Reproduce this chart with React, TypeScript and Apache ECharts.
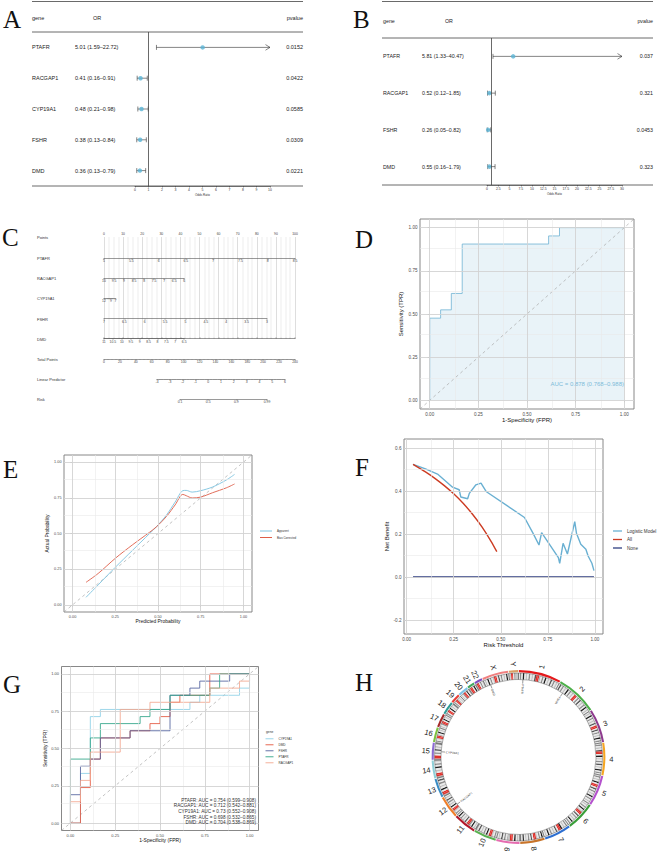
import React, { useEffect, useRef } from 'react';
import * as echarts from 'echarts';

// ===== A: forest plot, five genes =====
const genesA = ['PTAFR', 'RACGAP1', 'CYP19A1', 'FSHR', 'DMD'];
const orA = [5.01, 0.41, 0.48, 0.38, 0.36];
const loA = [1.59, 0.16, 0.21, 0.13, 0.13];
const hiA = [22.72, 0.91, 0.98, 0.84, 0.79];
const pvalA = ['0.0152', '0.0422', '0.0585', '0.0309', '0.0221'];
const axisMaxA = 10;
const tickStepA = 1;

// ===== B: forest plot, four genes =====
const genesB = ['PTAFR', 'RACGAP1', 'FSHR', 'DMD'];
const orB = [5.81, 0.52, 0.26, 0.55];
const loB = [1.33, 0.12, 0.05, 0.16];
const hiB = [40.47, 1.85, 0.82, 1.79];
const pvalB = ['0.037', '0.321', '0.0453', '0.323'];
const axisMaxB = 30;
const tickStepB = 2.5;

// ===== C: nomogram =====
const nomoLabels = ['Points', 'PTAFR', 'RACGAP1', 'CYP19A1', 'FSHR', 'DMD', 'Total Points', 'Linear Predictor', 'Risk'];
const pointsScale = [0, 100];
const ptafrScale = [5, 8.5];
const ptafrPoints = [0, 100];
const racgapScale = [6, 10];
const racgapPoints = [0, 42];
const cypScale = [7, 12];
const cypPoints = [0, 6];
const cypTicks = [7, 9, 12];
const fshrScale = [3, 7];
const fshrPoints = [0, 85.3];
const dmdScale = [6.5, 11];
const dmdPoints = [0, 42];
const totalScale = [0, 240];
const lpScale = [-4, 6];
const lpTotalPoints = [66.6, 227.4];
const riskTicks = [0.1, 0.5, 0.9, 0.99];

// ===== D: ROC of the model =====
const rocFpr = [0, 0, 0.056, 0.056, 0.111, 0.111, 0.167, 0.167, 0.611, 0.611, 0.667, 0.667, 1];
const rocTpr = [0, 0.476, 0.476, 0.524, 0.524, 0.619, 0.619, 0.905, 0.905, 0.952, 0.952, 1, 1];
const rocAuc = ['0.878', '0.768', '0.988'];

// ===== E: calibration =====
const calX = [0.079, 0.15, 0.25, 0.35, 0.45, 0.49, 0.55, 0.6, 0.645, 0.665, 0.7, 0.75, 0.82, 0.9, 0.948];
const calApparent = [0.053, 0.14, 0.263, 0.381, 0.499, 0.546, 0.63, 0.72, 0.8, 0.802, 0.79, 0.8, 0.826, 0.875, 0.914];
const calBias = [0.158, 0.22, 0.326, 0.42, 0.508, 0.546, 0.62, 0.7, 0.774, 0.765, 0.749, 0.755, 0.786, 0.82, 0.847];

// ===== F: decision curve =====
const dcaT = [0.034, 0.1, 0.164, 0.244, 0.279, 0.288, 0.324, 0.333, 0.368, 0.395, 0.422, 0.626, 0.671, 0.703, 0.717, 0.806, 0.813, 0.831, 0.854, 0.893, 0.902, 0.925, 0.952, 0.964, 0.984, 0.995];
const dcaModel = [0.524, 0.503, 0.479, 0.418, 0.406, 0.372, 0.364, 0.389, 0.429, 0.437, 0.398, 0.277, 0.204, 0.149, 0.207, 0.09, 0.064, 0.157, 0.107, 0.258, 0.204, 0.152, 0.129, 0.098, 0.064, 0.03];
const dcaAllT = [0.034, 0.1, 0.15, 0.2, 0.25, 0.3, 0.35, 0.4, 0.45, 0.479];
const dcaAll = [0.524, 0.489, 0.459, 0.425, 0.387, 0.343, 0.292, 0.233, 0.164, 0.118];
const dcaNoneT = [0.034, 0.995];
const dcaNone = [0, 0];

// ===== G: single-gene ROC =====
const rocGenes = ['CYP19A1', 'DMD', 'FSHR', 'PTAFR', 'RACGAP1'];
const cypFpr = [0, 0.056, 0.056, 0.111, 0.111, 0.167, 0.167, 0.667, 0.667, 0.722, 0.722, 0.944, 0.944, 1, 1];
const cypTpr = [0, 0, 0.333, 0.333, 0.714, 0.714, 0.762, 0.762, 0.81, 0.81, 0.857, 0.857, 0.905, 0.905, 1];
const dmdFpr = [0, 0.056, 0.056, 0.111, 0.111, 0.167, 0.167, 0.333, 0.333, 0.444, 0.444, 0.5, 0.5, 0.556, 0.556, 0.611, 0.611, 0.778, 0.778, 1];
const dmdTpr = [0, 0, 0.238, 0.238, 0.429, 0.429, 0.571, 0.571, 0.619, 0.619, 0.667, 0.667, 0.714, 0.714, 0.81, 0.81, 0.857, 0.857, 1, 1];
const fshrFpr = [0, 0, 0.056, 0.056, 0.111, 0.111, 0.167, 0.167, 0.333, 0.333, 0.556, 0.556, 0.667, 0.667, 0.722, 0.722, 0.889, 0.889, 1];
const fshrTpr = [0, 0.19, 0.19, 0.381, 0.381, 0.429, 0.429, 0.571, 0.571, 0.619, 0.619, 0.857, 0.857, 0.905, 0.905, 0.952, 0.952, 1, 1];
const ptafrFpr = [0, 0, 0.111, 0.111, 0.167, 0.167, 0.389, 0.389, 0.444, 0.444, 0.556, 0.556, 0.778, 0.778, 0.833, 0.833, 1];
const ptafrTpr = [0, 0.429, 0.429, 0.571, 0.571, 0.667, 0.667, 0.714, 0.714, 0.762, 0.762, 0.857, 0.857, 0.905, 0.905, 1, 1];
const racFpr = [0, 0, 0.056, 0.056, 0.111, 0.111, 0.278, 0.278, 0.444, 0.444, 0.778, 0.778, 0.944, 0.944, 1, 1];
const racTpr = [0, 0.143, 0.143, 0.286, 0.286, 0.476, 0.476, 0.762, 0.762, 0.81, 0.81, 0.905, 0.905, 0.952, 0.952, 1];
const aucGenes = ['PTAFR', 'RACGAP1', 'CYP19A1', 'FSHR', 'DMD'];
const aucValues = ['0.754', '0.712', '0.73', '0.698', '0.704'];
const aucLower = ['0.599', '0.542', '0.552', '0.532', '0.538'];
const aucUpper = ['0.908', '0.881', '0.908', '0.865', '0.869'];

// ===== H: circos =====
const chromNames = ['1', '2', '3', '4', '5', '6', '7', '8', '9', '10', '11', '12', '13', '14', '15', '16', '17', '18', '19', '20', '21', '22', 'X', 'Y'];
const chromLengths = [248, 242, 198, 190, 181, 171, 159, 145, 138, 134, 135, 133, 114, 107, 102, 90, 83, 80, 59, 64, 47, 51, 156, 57];
const chromBands = [
  'wgwkwlwgwlwdrrvwgwkwlwdwgwlw', 'wdwgwlwkwgwlwrrwgwdwlwgwkwlw', 'wlwkwgwlwdwrrwdwgwlwkwgw', 'wgwlwdrrwkwlwgwdwlwkwgw',
  'wgwlwkwrrwdwgwlwkwgwlw', 'wlwgwkwlrrwdwgwlwkwgw', 'wgwlwkrrwdwlwgwkwlw', 'wkwgwlrrwdwgwlwkwg',
  'wlwkwrrvvwgwdwlw', 'wgwlrrwkwgwlwdwg', 'wlwkwgrrwdwlwgwkw', 'wgwlrrwkwlwgwdwlw',
  'vrrwkwlwgwdw', 'vrrwlwkwgwl', 'vrrwgwdwlwg', 'wgwlrrvwkwlw', 'wlwgrrwkwlw', 'wgwrrwkwlwg',
  'wgwrrvwlw', 'wlwgrrwkwl', 'vrrwkw', 'vrrwgwl', 'wlwkwgwlrrwdwgwlwkw', 'wlrrwgvvv',
];
const markerGenes = ['PTAFR', 'FSHR', 'RACGAP1', 'CYP19A1', 'DMD'];
const markerChrom = ['1', '2', '12', '15', 'X'];
const markerPosMb = [28, 49, 50, 51, 32];

// ===== styles =====
const FONT = "'Liberation Sans', Arial, Helvetica, sans-serif";
const SERIF = "'Liberation Serif', 'Times New Roman', serif";
const chromColors = ['#E41A1C', '#4DAF4A', '#8E3B8E', '#F5A623', '#B452CD', '#3A9E3A', '#2E6FD0', '#C8742A', '#E56CB0', '#59B050', '#B2182B', '#F07F2A', '#3C8DC4', '#8FD0D8', '#8C6BD1', '#7CC242', '#A52A2A', '#2F9C95', '#E8403A', '#7EC3E6', '#41A85F', '#7E4FC0', '#F08080', '#D9A066'];
const bandColor: any = { w: '#E9E9E9', l: '#C4C4C4', g: '#8F8F8F', d: '#555555', k: '#1E1E1E', r: '#E0312C', v: '#B5B5B5' };
const geneColors: any = { CYP19A1: '#8DD0E6', DMD: '#E4573F', FSHR: '#52629E', PTAFR: '#2FA487', RACGAP1: '#F3A78F' };

function buildOption() {
  const grid: any[] = [];
  const xAxis: any[] = [];
  const yAxis: any[] = [];
  const series: any[] = [];
  const legend: any[] = [];
  const graphic: any[] = [];
  const addGrid = (g: any) => { grid.push({ containLabel: false, ...g }); return grid.length - 1; };
  const T = (x: number, y: number, text: string, fontSize: number, o: any = {}) => {
    const align = o.align || 'left';
    const va = o.verticalAlign || 'middle';
    graphic.push({
      type: 'text', x, y, silent: true, z: 100, rotation: o.rotation || 0,
      style: { text, fontSize, fontFamily: o.fontFamily || FONT, fill: o.fill || '#222', align, textAlign: align, verticalAlign: va, textVerticalAlign: va },
    });
  };
  const L = (x1: number, y1: number, x2: number, y2: number, stroke = '#444', lineWidth = 0.8) => {
    graphic.push({ type: 'line', silent: true, z: 90, shape: { x1, y1, x2, y2 }, style: { stroke, lineWidth } });
  };

  // ---------- forest panels ----------
  const forestRender = (xMax: number) => (params: any, api: any) => {
    const row = api.value(1);
    const lo = api.value(2);
    const hi = api.value(3);
    const a = api.coord([lo, row]);
    const clipped = hi > xMax;
    const b = api.coord([clipped ? xMax : hi, row]);
    const style = { stroke: '#333', lineWidth: 0.6, fill: 'none' };
    const kids: any[] = [
      { type: 'line', shape: { x1: a[0], y1: a[1], x2: b[0], y2: b[1] }, style },
      { type: 'line', shape: { x1: a[0], y1: a[1] - 2.5, x2: a[0], y2: a[1] + 2.5 }, style },
    ];
    if (clipped) kids.push({ type: 'polyline', shape: { points: [[b[0] - 4.5, b[1] - 2.8], [b[0], b[1]], [b[0] - 4.5, b[1] + 2.8]] }, style });
    else kids.push({ type: 'line', shape: { x1: b[0], y1: b[1] - 2.5, x2: b[0], y2: b[1] + 2.5 }, style });
    return { type: 'group', children: kids };
  };
  const forest = (c: any) => {
    const g = addGrid({ left: c.left, top: c.top, width: c.width, height: c.height });
    const xi = xAxis.length;
    xAxis.push({
      gridIndex: g, type: 'value', min: 0, max: c.xMax, interval: c.step,
      axisLine: { show: true, lineStyle: { color: '#333', width: 0.6 } },
      axisTick: { show: true, length: 1.5, lineStyle: { color: '#333', width: 0.5 } },
      axisLabel: { fontSize: 3.4, margin: 2.2, color: '#333', fontFamily: FONT },
      splitLine: { show: false },
      name: 'Odds Ratio', nameLocation: 'middle', nameGap: 7.5, nameTextStyle: { fontSize: 3, color: '#333', fontFamily: FONT },
    });
    const yi = yAxis.length;
    yAxis.push({
      gridIndex: g, type: 'category', data: c.genes, inverse: true, position: 'left',
      axisLine: { show: false }, axisTick: { show: false }, splitLine: { show: false },
      axisLabel: { align: 'left', margin: c.left - c.geneX, fontSize: c.font, color: '#222', fontFamily: FONT },
    });
    yAxis.push({
      gridIndex: g, type: 'category', data: c.genes, inverse: true, position: 'right',
      axisLine: { show: false }, axisTick: { show: false }, splitLine: { show: false },
      axisLabel: { align: 'right', margin: c.pRight - c.left - c.width, fontSize: c.font, color: '#222', fontFamily: FONT, formatter: (_v: any, i: number) => c.pval[i] },
    });
    const g2 = addGrid({ left: c.orX, top: c.top, width: 10, height: c.height });
    xAxis.push({ gridIndex: g2, type: 'value', show: false, min: 0, max: 1 });
    yAxis.push({
      gridIndex: g2, type: 'category', data: c.genes, inverse: true, position: 'left',
      axisLine: { show: false }, axisTick: { show: false }, splitLine: { show: false },
      axisLabel: {
        align: 'left', margin: 0, fontSize: c.font, color: '#222', fontFamily: FONT,
        formatter: (_v: any, i: number) => `${c.or[i].toFixed(2)} (${c.lo[i].toFixed(2)}\u2013${c.hi[i].toFixed(2)})`,
      },
    });
    series.push({
      type: 'custom', name: c.name + 'ci', xAxisIndex: xi, yAxisIndex: yi, silent: true, z: 3,
      data: c.genes.map((_g: string, i: number) => [c.or[i], i, c.lo[i], c.hi[i]]),
      encode: { x: 0, y: 1 }, renderItem: forestRender(c.xMax),
    });
    series.push({
      type: 'scatter', name: c.name, xAxisIndex: xi, yAxisIndex: yi, silent: true, z: 4,
      data: c.genes.map((_g: string, i: number) => [c.or[i], i]),
      symbolSize: 4.5, itemStyle: { color: '#5AB4D6' },
      markLine: { silent: true, symbol: ['none', 'none'], label: { show: false }, lineStyle: { color: '#444', width: 0.8, type: 'solid' }, data: [{ xAxis: 1 }] },
    });
    T(c.geneX, c.headY, 'gene', c.font);
    T(c.orHeadX, c.headY, 'OR', c.font);
    T(c.pRight, c.headY, 'pvalue', c.font, { align: 'right' });
    L(c.lineL, 1.5, c.pRight, 1.5);
    L(c.lineL, c.top, c.pRight, c.top);
    L(c.lineL, c.top + c.height, c.pRight, c.top + c.height);
  };
  forest({ name: 'forestA', genes: genesA, or: orA, lo: loA, hi: hiA, pval: pvalA, xMax: axisMaxA, step: tickStepA, left: 135, top: 32, width: 135, height: 154, geneX: 32, orX: 75, orHeadX: 93, pRight: 303, headY: 17.5, lineL: 32, font: 5.5 });
  forest({ name: 'forestB', genes: genesB, or: orB, lo: loB, hi: hiB, pval: pvalB, xMax: axisMaxB, step: tickStepB, left: 487, top: 38, width: 135, height: 147, geneX: 383, orX: 422, orHeadX: 445, pRight: 653, headY: 21, lineL: 382, font: 5.3 });

  // ---------- C: nomogram ----------
  const NL = 104;
  const NW = 191;
  const ptsPx = (p: number) => NL + (p - pointsScale[0]) / (pointsScale[1] - pointsScale[0]) * NW;
  const rowY = [237, 258.3, 278.3, 298.3, 318.7, 338.7, 359, 379, 399.3];
  const nLine = { show: true, lineStyle: { color: '#555', width: 0.6 } };
  const nTick = (extra: any = {}) => ({ show: true, length: 1.5, lineStyle: { color: '#555', width: 0.4 }, ...extra });
  const nLab = (extra: any = {}) => ({ fontSize: 3.4, color: '#444', margin: 1.6, fontFamily: FONT, ...extra });
  nomoLabels.forEach((lab, i) => T(37, rowY[i] + 0.5, lab, 4, { fill: '#333' }));
  const gp = addGrid({ left: NL, top: rowY[0], width: NW, height: rowY[5] - rowY[0] });
  xAxis.push({
    gridIndex: gp, type: 'value', position: 'top', min: pointsScale[0], max: pointsScale[1], interval: 10,
    axisLine: nLine, axisTick: nTick(), axisLabel: nLab(),
    minorTick: { show: true, splitNumber: 4, length: 1, lineStyle: { color: '#666', width: 0.3 } },
    splitLine: { show: true, lineStyle: { color: '#bdbdbd', width: 0.5 } },
    minorSplitLine: { show: true, lineStyle: { color: '#d6d6d6', width: 0.45 } },
  });
  yAxis.push({ gridIndex: gp, type: 'value', show: false });
  const rowAxis = (left: number, right: number, y: number, ax: any) => {
    const g = addGrid({ left, top: y - 1, width: right - left, height: 1 });
    xAxis.push({ gridIndex: g, type: 'value', position: 'bottom', axisLine: nLine, axisTick: nTick(), axisLabel: nLab(), splitLine: { show: false }, ...ax });
    yAxis.push({ gridIndex: g, type: 'value', show: false });
  };
  rowAxis(ptsPx(ptafrPoints[0]), ptsPx(ptafrPoints[1]), rowY[1], { min: ptafrScale[0], max: ptafrScale[1], interval: 0.5 });
  rowAxis(ptsPx(racgapPoints[0]), ptsPx(racgapPoints[1]), rowY[2], { min: racgapScale[0], max: racgapScale[1], interval: 0.5, inverse: true });
  rowAxis(ptsPx(cypPoints[0]), ptsPx(cypPoints[1]), rowY[3], {
    min: cypScale[0], max: cypScale[1], inverse: true,
    axisTick: nTick({ customValues: [7, 7.5, 8, 8.5, 9, 9.5, 10, 10.5, 11, 11.5, 12], length: 1 }),
    axisLabel: nLab({ customValues: cypTicks }),
  });
  rowAxis(ptsPx(fshrPoints[0]), ptsPx(fshrPoints[1]), rowY[4], { min: fshrScale[0], max: fshrScale[1], interval: 0.5, inverse: true });
  rowAxis(ptsPx(dmdPoints[0]), ptsPx(dmdPoints[1]), rowY[5], { min: dmdScale[0], max: dmdScale[1], interval: 0.5, inverse: true });
  rowAxis(NL, NL + NW, rowY[6], { min: totalScale[0], max: totalScale[1], interval: 20, minorTick: { show: true, splitNumber: 4, length: 1, lineStyle: { color: '#666', width: 0.3 } } });
  const tpPx = (tp: number) => NL + (tp - totalScale[0]) / (totalScale[1] - totalScale[0]) * NW;
  const lpPx = (lp: number) => tpPx(lpTotalPoints[0] + (lp - lpScale[0]) / (lpScale[1] - lpScale[0]) * (lpTotalPoints[1] - lpTotalPoints[0]));
  rowAxis(lpPx(lpScale[0]), lpPx(lpScale[1]), rowY[7], { min: lpScale[0], max: lpScale[1], interval: 1, minorTick: { show: true, splitNumber: 5, length: 1, lineStyle: { color: '#666', width: 0.3 } } });
  const logit = (p: number) => Math.log(p / (1 - p));
  const rv = riskTicks.map(logit);
  rowAxis(lpPx(rv[0]), lpPx(rv[rv.length - 1]), rowY[8], {
    min: rv[0], max: rv[rv.length - 1],
    axisTick: nTick({ customValues: rv }),
    axisLabel: nLab({
      customValues: rv,
      formatter: (v: number) => {
        let best = 0;
        rv.forEach((r, i) => { if (Math.abs(r - v) < Math.abs(rv[best] - v)) best = i; });
        return String(riskTicks[best]);
      },
    }),
  });

  // ---------- ggplot-like panels ----------
  const gg = (p: any) => {
    const g = addGrid({ left: p.left, top: p.top, width: p.width, height: p.height, show: true, borderColor: '#7a7a7a', borderWidth: 0.9, backgroundColor: 'rgba(0,0,0,0)' });
    const xi = xAxis.length;
    xAxis.push({
      gridIndex: g, type: 'value', position: 'bottom', min: p.xMin, max: p.xMax,
      axisLine: { show: false },
      axisTick: { show: true, length: 2, lineStyle: { color: '#333', width: 0.5 }, customValues: p.xTicks },
      axisLabel: { show: true, customValues: p.xTicks, formatter: (v: number) => v.toFixed(p.xDec), fontSize: p.tickFont, color: '#4d4d4d', margin: 2.5, fontFamily: FONT },
      splitLine: { show: false },
      name: p.xName, nameLocation: 'middle', nameGap: p.xNameGap, nameTextStyle: { fontSize: p.titleFont, color: '#111', fontFamily: FONT },
    });
    const yi = yAxis.length;
    yAxis.push({
      gridIndex: g, type: 'value', position: 'left', min: p.yMin, max: p.yMax,
      axisLine: { show: false },
      axisTick: { show: true, length: 2, lineStyle: { color: '#333', width: 0.5 }, customValues: p.yTicks },
      axisLabel: { show: true, customValues: p.yTicks, formatter: (v: number) => v.toFixed(p.yDec), fontSize: p.tickFont, color: '#4d4d4d', margin: 2.5, fontFamily: FONT },
      splitLine: { show: false },
      name: p.yName, nameLocation: 'middle', nameGap: p.yNameGap, nameTextStyle: { fontSize: p.titleFont, color: '#111', fontFamily: FONT },
    });
    // grid lines drawn by the library at tick values (markLine spans the whole panel)
    const gridLines = (xs: number[], ys: number[], color: string, width: number, name: string) => series.push({
      type: 'line', name, xAxisIndex: xi, yAxisIndex: yi, silent: true, z: 1,
      data: [[xs[0], ys[0]]], symbol: 'none', showSymbol: false, lineStyle: { width: 0 },
      markLine: {
        silent: true, symbol: ['none', 'none'], label: { show: false }, animation: false,
        lineStyle: { color, width, type: 'solid' },
        data: [...xs.map((v) => ({ xAxis: v })), ...ys.map((v) => ({ yAxis: v }))],
      },
    });
    gridLines(p.xMinor, p.yMinor, '#e9e9e9', 0.6, p.id + 'minor');
    gridLines(p.xTicks, p.yTicks, '#d2d2d2', 0.9, p.id + 'major');
    return { xi, yi };
  };
  const q = [0, 0.25, 0.5, 0.75, 1];
  const qm = [0.125, 0.375, 0.625, 0.875];
  const dashed = (ax: any, ext: number[], name: string) => series.push({
    type: 'line', name, xAxisIndex: ax.xi, yAxisIndex: ax.yi, silent: true, symbol: 'none', z: 3,
    data: [[ext[0], ext[0]], [ext[1], ext[1]]], lineStyle: { color: '#a9a9a9', width: 0.7, type: [3, 3] },
  });

  // D
  const dAx = gg({ id: 'D', left: 420, top: 219, width: 214, height: 190, xMin: -0.05, xMax: 1.05, yMin: -0.05, yMax: 1.05, xTicks: q, yTicks: q, xMinor: qm, yMinor: qm, xDec: 2, yDec: 2, tickFont: 4.6, titleFont: 6, xName: '1-Specificity (FPR)', yName: 'Sensitivity (TPR)', xNameGap: 8, yNameGap: 16 });
  series.push({
    type: 'line', name: 'rocModel', xAxisIndex: dAx.xi, yAxisIndex: dAx.yi, silent: true, symbol: 'none', z: 2,
    data: rocFpr.map((x, i) => [x, rocTpr[i]]), lineStyle: { color: '#6EB2D3', width: 0.8 }, areaStyle: { color: 'rgba(110,178,211,0.22)' },
  });
  dashed(dAx, [-0.05, 1.05], 'diagD');
  T(624, 384, `AUC = ${rocAuc[0]} (${rocAuc[1]}\u2013${rocAuc[2]})`, 6, { align: 'right', fill: '#7DBBD8' });

  // E
  const eAx = gg({ id: 'E', left: 64, top: 455, width: 188, height: 157, xMin: -0.05, xMax: 1.05, yMin: -0.05, yMax: 1.05, xTicks: q, yTicks: q, xMinor: qm, yMinor: qm, xDec: 2, yDec: 2, tickFont: 3.8, titleFont: 4.9, xName: 'Predicted Probability', yName: 'Actual Probability', xNameGap: 6.5, yNameGap: 12 });
  dashed(eAx, [-0.05, 1.05], 'diagE');
  series.push({ type: 'line', name: 'Apparent', xAxisIndex: eAx.xi, yAxisIndex: eAx.yi, silent: true, symbol: 'none', smooth: 0.3, z: 4, data: calX.map((x, i) => [x, calApparent[i]]), lineStyle: { color: '#7CC3E0', width: 0.9 }, itemStyle: { color: '#7CC3E0' } });
  series.push({ type: 'line', name: 'Bias Corrected', xAxisIndex: eAx.xi, yAxisIndex: eAx.yi, silent: true, symbol: 'none', smooth: 0.3, z: 4, data: calX.map((x, i) => [x, calBias[i]]), lineStyle: { color: '#DE5E48', width: 0.9 }, itemStyle: { color: '#DE5E48' } });
  legend.push({ data: ['Apparent', 'Bias Corrected'], left: 260, top: 529.5, orient: 'vertical', icon: 'rect', itemWidth: 12, itemHeight: 1, itemGap: 3.5, padding: 0, selectedMode: false, textStyle: { fontSize: 2.9, color: '#333', fontFamily: FONT } });

  // F
  const fAx = gg({ id: 'F', left: 404, top: 439, width: 199, height: 195, xMin: -0.014, xMax: 1.043, yMin: -0.265, yMax: 0.642, xTicks: q, yTicks: [-0.2, 0, 0.2, 0.4, 0.6], xMinor: qm, yMinor: [-0.1, 0.1, 0.3, 0.5], xDec: 2, yDec: 1, tickFont: 4.6, titleFont: 6, xName: 'Risk Threshold', yName: 'Net Benefit', xNameGap: 8, yNameGap: 14 });
  series.push({ type: 'line', name: 'Logistic Model', xAxisIndex: fAx.xi, yAxisIndex: fAx.yi, silent: true, symbol: 'none', z: 4, data: dcaT.map((x, i) => [x, dcaModel[i]]), lineStyle: { color: '#6AB0D2', width: 1.4 }, itemStyle: { color: '#6AB0D2' } });
  series.push({ type: 'line', name: 'All', xAxisIndex: fAx.xi, yAxisIndex: fAx.yi, silent: true, symbol: 'none', z: 4, smooth: 0.2, data: dcaAllT.map((x, i) => [x, dcaAll[i]]), lineStyle: { color: '#CC3B22', width: 1.4 }, itemStyle: { color: '#CC3B22' } });
  series.push({ type: 'line', name: 'None', xAxisIndex: fAx.xi, yAxisIndex: fAx.yi, silent: true, symbol: 'none', z: 4, data: dcaNoneT.map((x, i) => [x, dcaNone[i]]), lineStyle: { color: '#2F3E80', width: 1.4 }, itemStyle: { color: '#2F3E80' } });
  legend.push({ data: ['Logistic Model', 'All', 'None'], left: 613, top: 528.5, orient: 'vertical', icon: 'rect', itemWidth: 9, itemHeight: 1.3, itemGap: 3.5, padding: 0, selectedMode: false, textStyle: { fontSize: 4.6, color: '#333', fontFamily: FONT } });

  // G
  const gAx = gg({ id: 'G', left: 61.5, top: 666.5, width: 197, height: 164, xMin: -0.05, xMax: 1.05, yMin: -0.05, yMax: 1.05, xTicks: q, yTicks: q, xMinor: qm, yMinor: qm, xDec: 2, yDec: 2, tickFont: 4, titleFont: 5, xName: '1-Specificity (FPR)', yName: 'Sensitivity (TPR)', xNameGap: 6, yNameGap: 12 });
  dashed(gAx, [-0.05, 1.05], 'diagG');
  const gFpr = [cypFpr, dmdFpr, fshrFpr, ptafrFpr, racFpr];
  const gTpr = [cypTpr, dmdTpr, fshrTpr, ptafrTpr, racTpr];
  rocGenes.forEach((gname, k) => {
    series.push({ type: 'line', name: gname, xAxisIndex: gAx.xi, yAxisIndex: gAx.yi, silent: true, symbol: 'none', z: 4, data: gFpr[k].map((x, i) => [x, gTpr[k][i]]), lineStyle: { color: geneColors[gname], width: 0.9, opacity: 0.95 }, itemStyle: { color: geneColors[gname] } });
  });
  T(266, 732, 'gene', 3.3, { fill: '#333' });
  legend.push({ data: rocGenes, left: 265.5, top: 737.3, orient: 'vertical', icon: 'rect', itemWidth: 8, itemHeight: 0.9, itemGap: 3, padding: 0, selectedMode: false, textStyle: { fontSize: 3.1, color: '#333', fontFamily: FONT } });
  const aucY = [800, 805.7, 811.4, 817.1, 822.8];
  aucGenes.forEach((gname, i) => T(256, aucY[i], `${gname}: AUC = ${aucValues[i]} (${aucLower[i]}\u2013${aucUpper[i]})`, 4.7, { align: 'right', fill: '#333' }));

  // ---------- H: circos ----------
  const HC = [518.5, 757];
  const total = chromLengths.reduce((a, b) => a + b, 0);
  const starts: number[] = [];
  chromLengths.reduce((acc, len, i) => { starts[i] = acc; return acc + len; }, 0);
  const pieBase = { type: 'pie', center: HC, startAngle: 90, clockwise: true, silent: true, animation: false, avoidLabelOverlap: false, label: { show: false }, labelLine: { show: false }, emphasis: { disabled: true } };
  series.push({ ...pieBase, name: 'chromArc', radius: [84.8, 86.9], padAngle: 0.5, data: chromNames.map((n, i) => ({ name: 'chr' + n, value: chromLengths[i], itemStyle: { color: chromColors[i] } })) });
  const bandData: any[] = [];
  chromNames.forEach((n, i) => {
    const pat = chromBands[i];
    for (let k = 0; k < pat.length; k++) bandData.push({ name: `b${n}_${k}`, value: chromLengths[i] / pat.length, itemStyle: { color: bandColor[pat[k]] } });
  });
  series.push({ ...pieBase, name: 'bands', radius: [77.5, 84], data: bandData });
  series.push({ ...pieBase, name: 'outline', radius: [77.5, 84], data: chromNames.map((n, i) => ({ name: 'o' + n, value: chromLengths[i], itemStyle: { color: 'rgba(0,0,0,0)', borderColor: '#444', borderWidth: 0.4 } })) });
  series.push({
    type: 'custom', name: 'chromLabels', coordinateSystem: 'polar', polarIndex: 0, silent: true,
    data: chromNames.map((_n, i) => [0, starts[i] + chromLengths[i] / 2, i]),
    renderItem: (_p: any, api: any) => {
      const a = api.value(1);
      const i = api.value(2);
      const pt = api.coord([93, a]);
      const th = a / total * 360;
      const deg = th < 180 ? 90 - th : 270 - th;
      return { type: 'text', x: pt[0], y: pt[1], rotation: deg * Math.PI / 180, style: { text: chromNames[i], align: 'center', verticalAlign: 'middle', fontSize: 7.5, fill: '#222', fontFamily: FONT } };
    },
  });
  series.push({
    type: 'custom', name: 'geneMarks', coordinateSystem: 'polar', polarIndex: 0, silent: true,
    data: markerGenes.map((_g, i) => [0, starts[chromNames.indexOf(markerChrom[i])] + markerPosMb[i], i]),
    renderItem: (_p: any, api: any) => {
      const a = api.value(1);
      const i = api.value(2);
      const p0 = api.coord([77.5, a]);
      const p1 = api.coord([73.5, a]);
      const p2 = api.coord([72.8, a]);
      const th = a / total * 360;
      return {
        type: 'group', children: [
          { type: 'line', shape: { x1: p0[0], y1: p0[1], x2: p1[0], y2: p1[1] }, style: { stroke: '#333', lineWidth: 0.5 } },
          { type: 'text', x: p2[0], y: p2[1], rotation: -(th + 90) * Math.PI / 180, style: { text: markerGenes[i], align: 'left', verticalAlign: 'middle', fontSize: 3, fill: '#333', fontFamily: FONT } },
        ],
      };
    },
  });

  // ---------- panel letters ----------
  const letters: [string, number, number][] = [['A', 3, 6.5], ['B', 353, 6.5], ['C', 2, 225], ['D', 355, 226.5], ['E', 3, 456.5], ['F', 355, 455], ['G', 3, 671.5], ['H', 355, 669.5]];
  letters.forEach(([t, x, y]) => T(x, y, t, 25, { verticalAlign: 'top', fontFamily: SERIF, fill: '#111' }));

  return {
    animation: false,
    backgroundColor: '#ffffff',
    textStyle: { fontFamily: FONT },
    grid, xAxis, yAxis, series, legend,
    polar: [{ center: HC, radius: 100 }],
    angleAxis: [{ polarIndex: 0, type: 'value', min: 0, max: total, startAngle: 90, clockwise: true, show: false }],
    radiusAxis: [{ polarIndex: 0, type: 'value', min: 0, max: 100, show: false }],
    graphic: { elements: graphic },
  };
}

export default function App() {
  const ref = useRef<HTMLDivElement>(null);
  useEffect(() => {
    document.body.style.margin = '0';
    const chart = echarts.init(ref.current as HTMLDivElement, null, { renderer: 'svg', width: 658, height: 851 });
    chart.setOption(buildOption() as any);
    return () => chart.dispose();
  }, []);
  return <div ref={ref} style={{ width: 658, height: 851, position: 'absolute', left: 0, top: 0, background: '#fff' }} />;
}
